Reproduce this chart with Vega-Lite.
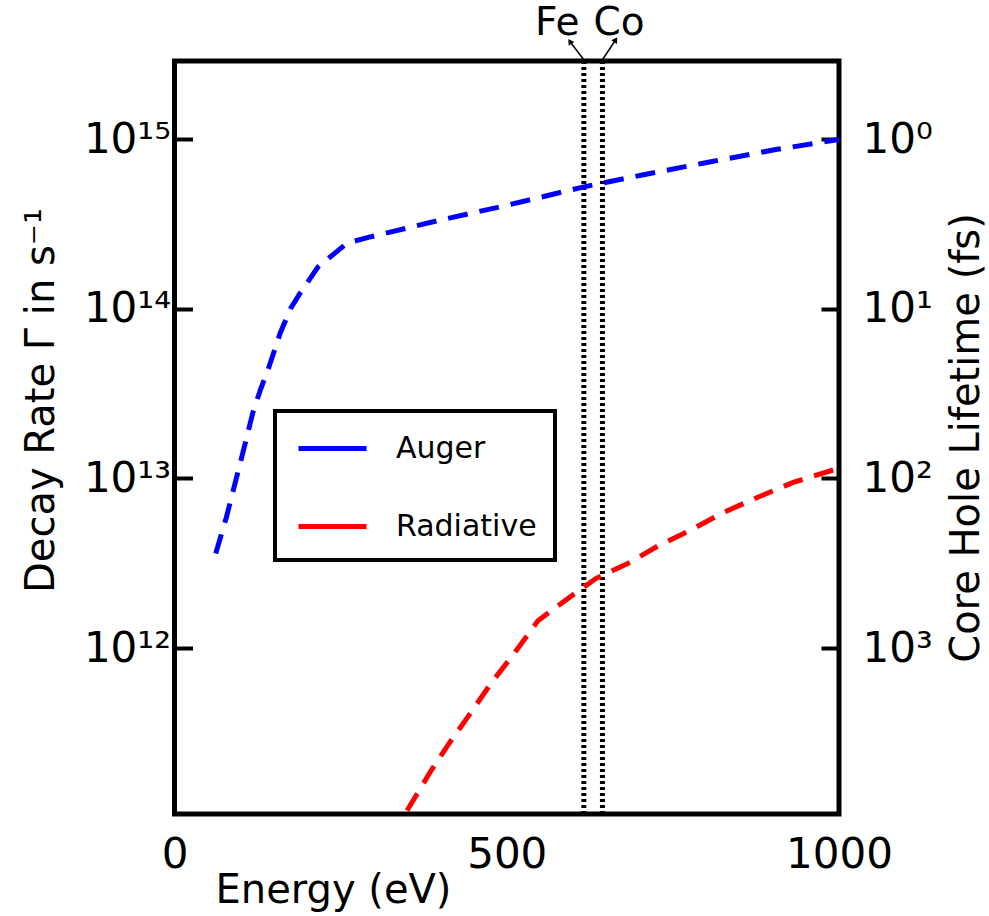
{
  "$schema": "https://vega.github.io/schema/vega-lite/v6.json",
  "width": 664.5,
  "height": 753,
  "autosize": {"type": "none"},
  "padding": {"left": 174.5, "top": 61, "right": 150, "bottom": 102},
  "background": "white",
  "config": {
    "view": {"stroke": "black", "strokeWidth": 5},
    "font": "DejaVu Sans",
    "axis": {
      "labelFont": "DejaVu Sans", "titleFont": "DejaVu Sans",
      "labelColor": "black", "titleColor": "black",
      "labelFontSize": 42, "titleFontSize": 40, "titleFontWeight": "normal",
      "domain": false, "grid": false, "tickColor": "black", "tickWidth": 4
    },
    "legend": {"strokeWidth": 4}
  },
  "datasets": {
    "curves": [
      {"energy": 62, "rate": 3.61e12, "process": "Auger"},
      {"energy": 78, "rate": 5.89e12, "process": "Auger"},
      {"energy": 91, "rate": 9.33e12, "process": "Auger"},
      {"energy": 105, "rate": 1.53e13, "process": "Auger"},
      {"energy": 118, "rate": 2.45e13, "process": "Auger"},
      {"energy": 129, "rate": 3.31e13, "process": "Auger"},
      {"energy": 142, "rate": 4.53e13, "process": "Auger"},
      {"energy": 159, "rate": 7.19e13, "process": "Auger"},
      {"energy": 175, "rate": 1.01e14, "process": "Auger"},
      {"energy": 189, "rate": 1.24e14, "process": "Auger"},
      {"energy": 216, "rate": 1.77e14, "process": "Auger"},
      {"energy": 260, "rate": 2.45e14, "process": "Auger"},
      {"energy": 293, "rate": 2.65e14, "process": "Auger"},
      {"energy": 401, "rate": 3.35e14, "process": "Auger"},
      {"energy": 502, "rate": 4.10e14, "process": "Auger"},
      {"energy": 616, "rate": 5.25e14, "process": "Auger"},
      {"energy": 704, "rate": 6.17e14, "process": "Auger"},
      {"energy": 805, "rate": 7.36e14, "process": "Auger"},
      {"energy": 905, "rate": 8.71e14, "process": "Auger"},
      {"energy": 1000, "rate": 1.0e15, "process": "Auger"},
      {"energy": 350, "rate": 1.1e11, "process": "Radiative"},
      {"energy": 386, "rate": 1.89e11, "process": "Radiative"},
      {"energy": 413, "rate": 2.73e11, "process": "Radiative"},
      {"energy": 446, "rate": 4.16e11, "process": "Radiative"},
      {"energy": 477, "rate": 6.25e11, "process": "Radiative"},
      {"energy": 511, "rate": 9.27e11, "process": "Radiative"},
      {"energy": 547, "rate": 1.45e12, "process": "Radiative"},
      {"energy": 588, "rate": 1.91e12, "process": "Radiative"},
      {"energy": 634, "rate": 2.57e12, "process": "Radiative"},
      {"energy": 682, "rate": 3.15e12, "process": "Radiative"},
      {"energy": 729, "rate": 4.03e12, "process": "Radiative"},
      {"energy": 776, "rate": 4.94e12, "process": "Radiative"},
      {"energy": 823, "rate": 6.22e12, "process": "Radiative"},
      {"energy": 877, "rate": 7.73e12, "process": "Radiative"},
      {"energy": 931, "rate": 9.48e12, "process": "Radiative"},
      {"energy": 1000, "rate": 1.15e13, "process": "Radiative"}
    ],
    "edges": [
      {"element": "Fe", "energy": 616, "tail_rate": 2.95e15, "tip_energy": 595, "tip_rate": 3.78e15, "label_energy": 576, "label_rate": 4.14e15},
      {"element": "Co", "energy": 644, "tail_rate": 2.95e15, "tip_energy": 664, "tip_rate": 3.87e15, "label_energy": 669, "label_rate": 4.14e15}
    ]
  },
  "layer": [
    {
      "data": {"name": "edges"},
      "mark": {"type": "rule", "color": "black", "strokeWidth": 5, "strokeDash": [3, 3]},
      "encoding": {
        "x": {"field": "energy", "type": "quantitative", "scale": {"domain": [0, 1000], "nice": false},
          "axis": {"values": [0, 500, 1000], "ticks": false, "labelPadding": 20, "labelFlush": false, "format": "d",
            "title": "Energy (eV)", "titleX": 158.5, "titleY": 56, "titleBaseline": "top"}}
      }
    },
    {
      "data": {"name": "curves"},
      "mark": {"type": "line", "strokeWidth": 5, "strokeDash": [20, 12], "clip": true},
      "encoding": {
        "x": {"field": "energy", "type": "quantitative", "scale": {"domain": [0, 1000], "nice": false}},
        "y": {"field": "rate", "type": "quantitative",
          "scale": {"type": "log", "domain": [1.05e11, 2.9e15], "nice": false},
          "axis": {"orient": "left", "values": [1e12, 1e13, 1e14, 1e15], "tickSize": -18, "labelPadding": 22,
            "labelExpr": "['10¹²','10¹³','10¹⁴','10¹⁵'][round(log(datum.value)/LN10)-12]",
            "title": "Decay Rate Γ in s⁻¹", "titleX": -133.5, "titleY": 339, "titleAngle": 270,
            "titleAlign": "center", "titleBaseline": "middle"}},
        "color": {"field": "process", "type": "nominal",
          "scale": {"domain": ["Auger", "Radiative"], "range": ["#0000ff", "#ff0000"]},
          "legend": {"orient": "none", "legendX": 100.5, "legendY": 350, "title": null,
            "symbolType": "M-2,0H2", "symbolSize": 1156, "symbolStrokeWidth": 5, "symbolDash": [1, 0],
            "labelFontSize": 30, "labelFont": "DejaVu Sans", "labelColor": "black", "labelOffset": 44,
            "rowPadding": 43, "padding": 18, "symbolOffset": 20, "strokeColor": "black", "fillColor": "white"}}
      }
    },
    {
      "data": {"name": "edges"},
      "mark": {"type": "rule", "color": "black", "strokeWidth": 1.5, "clip": false},
      "encoding": {
        "x": {"field": "energy", "type": "quantitative", "scale": {"domain": [0, 1000], "nice": false}},
        "y": {"field": "tail_rate", "type": "quantitative", "scale": {"type": "log", "domain": [1.05e11, 2.9e15], "nice": false}, "axis": null},
        "x2": {"field": "tip_energy"},
        "y2": {"field": "tip_rate"}
      }
    },
    {
      "data": {"name": "edges"},
      "transform": [{"filter": "datum.element == 'Fe'"}],
      "mark": {"type": "point", "shape": "triangle-up", "filled": true, "color": "black", "opacity": 1, "size": 45, "angle": -33, "clip": false},
      "encoding": {
        "x": {"field": "tip_energy", "type": "quantitative", "scale": {"domain": [0, 1000], "nice": false}},
        "y": {"field": "tip_rate", "type": "quantitative", "scale": {"type": "log", "domain": [1.05e11, 2.9e15], "nice": false}, "axis": null}
      }
    },
    {
      "data": {"name": "edges"},
      "transform": [{"filter": "datum.element == 'Co'"}],
      "mark": {"type": "point", "shape": "triangle-up", "filled": true, "color": "black", "opacity": 1, "size": 45, "angle": 33, "clip": false},
      "encoding": {
        "x": {"field": "tip_energy", "type": "quantitative", "scale": {"domain": [0, 1000], "nice": false}},
        "y": {"field": "tip_rate", "type": "quantitative", "scale": {"type": "log", "domain": [1.05e11, 2.9e15], "nice": false}, "axis": null}
      }
    },
    {
      "data": {"name": "edges"},
      "mark": {"type": "text", "font": "DejaVu Sans", "fontSize": 39, "color": "black", "align": "center", "baseline": "alphabetic", "clip": false},
      "encoding": {
        "x": {"field": "label_energy", "type": "quantitative", "scale": {"domain": [0, 1000], "nice": false}},
        "y": {"field": "label_rate", "type": "quantitative",
          "scale": {"type": "log", "domain": [1.05e11, 2.9e15], "nice": false},
          "axis": {"orient": "right", "values": [1e12, 1e13, 1e14, 1e15], "tickSize": -18, "labelPadding": 41,
            "labelExpr": "['10³','10²','10¹','10⁰'][round(log(datum.value)/LN10)-12]",
            "title": "Core Hole Lifetime (fs)", "titleX": 127, "titleY": 376.5, "titleAngle": 270,
            "titleAlign": "center", "titleBaseline": "middle"}},
        "text": {"field": "element"}
      }
    }
  ],
  "resolve": {"axis": {"y": "independent"}}
}
